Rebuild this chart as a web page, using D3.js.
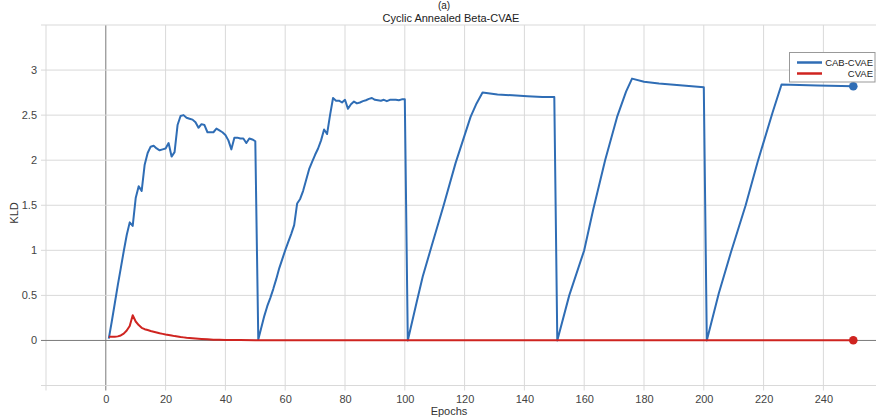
<!DOCTYPE html>
<html><head><meta charset="utf-8">
<script src="https://cdn.jsdelivr.net/npm/d3@7"></script>
<style>
html,body{margin:0;padding:0;background:#fff;overflow:hidden}
svg{display:block;font-family:Arial,"Liberation Sans",sans-serif}
</style></head>
<body><svg id="c" width="876" height="418"></svg>
<script>
// ---- data ----
const cabEpochs = [1,2,3,4,5,6,7,8,9,10,11,12,13,14,15,16,17,18,19,20,21,22,23,24,25,26,27,28,29,30,
  31,32,33,34,35,36,37,38,39,40,41,42,43,44,45,46,47,48,49,50,51,
  52,53,54,55,56,57,58,59,60,61,62,63,64,65,66,67,68,69,70,71,72,73,74,75,76,77,78,79,80,
  81,82,83,84,85,86,87,88,89,90,91,92,93,94,95,96,97,98,99,100,101,
  104,106,109,113,117,122,124,126,131,136,141,146,150,151,
  155,160,163,167,171,174,176,180,185,193,200,201,
  205,209,214,218,223,226,238,250];
const cabValues = [0.02,0.21,0.41,0.61,0.80,0.99,1.17,1.31,1.27,1.58,1.71,1.66,1.95,2.08,2.15,2.16,2.13,2.11,2.12,2.13,
  2.19,2.04,2.09,2.39,2.49,2.50,2.47,2.46,2.45,2.42,
  2.36,2.40,2.39,2.31,2.31,2.31,2.35,2.33,2.31,2.28,2.22,2.12,2.25,2.25,2.24,2.24,2.19,2.24,2.23,2.21,0.01,
  0.14,0.27,0.38,0.47,0.57,0.68,0.80,0.90,1.00,1.09,1.18,1.28,1.52,1.57,1.66,1.78,1.90,1.98,2.06,
  2.13,2.22,2.34,2.29,2.50,2.69,2.66,2.66,2.64,2.67,
  2.57,2.62,2.65,2.63,2.64,2.655,2.665,2.68,2.69,2.67,2.665,2.66,2.67,2.655,2.67,2.67,2.67,2.665,2.675,2.675,0.0,
  0.43,0.71,1.05,1.50,1.97,2.48,2.63,2.75,2.73,2.72,2.71,2.70,2.70,0.0,
  0.50,1.00,1.45,2.00,2.48,2.76,2.905,2.87,2.85,2.83,2.81,0.0,
  0.52,0.97,1.50,1.98,2.53,2.84,2.83,2.82];
const cvaeEpochs = [1,2,3,4,5,6,7,8,9,10,11,12,13,14,15,16,17,18,19,20,21,22,23,24,25,26,27,28,29,30,
  32,34,36,38,40,45,50,60,80,100,150,200,250];
const cvaeValues = [0.04,0.04,0.04,0.045,0.055,0.075,0.11,0.16,0.28,0.21,0.17,0.14,0.125,0.115,0.105,0.097,0.089,0.08,0.073,0.066,
  0.06,0.054,0.048,0.043,0.038,0.034,0.03,0.027,0.024,0.021,
  0.016,0.012,0.009,0.007,0.006,0.004,0.003,0.003,0.002,0.002,0.002,0.002,0.002];
const xTicks = [0,20,40,60,80,100,120,140,160,180,200,220,240];
const xGrid = [-20,0,20,40,60,80,100,120,140,160,180,200,220,240];
const yTicks = [0,0.5,1,1.5,2,2.5,3];
const yGrid = [-0.5,0,0.5,1,1.5,2,2.5,3,3.5];
const seriesNames = ["CAB-CVAE","CVAE"];
const colors = ["#2f6db5","#cf2420"];
const title = "Cyclic Annealed Beta-CVAE";

// ---- chart ----
const svg = d3.select("#c");
const x = d3.scaleLinear().domain([-20,260]).range([46, 46 + 280*2.99]);
const y = d3.scaleLinear().domain([-0.5,3.5]).range([385.5,25]);

const g = svg.append("g");
g.selectAll(".vg").data(xGrid).join("line")
  .attr("x1",d=>x(d)).attr("x2",d=>x(d)).attr("y1",y(3.5)).attr("y2",y(-0.5)+5)
  .attr("stroke",d=>d===0?"#7a7a7a":"#d9d9d9").attr("stroke-width",1);
g.selectAll(".hg").data(yGrid).join("line")
  .attr("x1",x(-20)-5).attr("x2",880).attr("y1",d=>y(d)).attr("y2",d=>y(d))
  .attr("stroke",d=>d===0?"#7a7a7a":"#d9d9d9").attr("stroke-width",1);

const xAxis = d3.axisBottom(x).tickValues(xTicks).tickSize(0).tickPadding(0).tickFormat(d3.format("d"));
const xa = svg.append("g").attr("transform",`translate(0,${y(-0.5)+10})`).call(xAxis);
xa.select(".domain").remove();
xa.selectAll("text").attr("font-size",11).attr("fill","#444").attr("font-family","Arial, Liberation Sans, sans-serif");
const yAxis = d3.axisLeft(y).tickValues(yTicks).tickSize(0).tickPadding(0).tickFormat(d=>String(d));
const ya = svg.append("g").attr("transform",`translate(37,0)`).call(yAxis);
ya.select(".domain").remove();
ya.selectAll("text").attr("font-size",11).attr("fill","#444").attr("font-family","Arial, Liberation Sans, sans-serif");

const line = d3.line().x(d=>x(d[0])).y(d=>y(d[1]));
const cab = cabEpochs.map((e,i)=>[e,cabValues[i]]);
const cvae = cvaeEpochs.map((e,i)=>[e,cvaeValues[i]]);
svg.append("path").datum(cab).attr("d",line).attr("fill","none")
  .attr("stroke",colors[0]).attr("stroke-width",2).attr("stroke-linejoin","round");
svg.append("path").datum(cvae).attr("d",line).attr("fill","none")
  .attr("stroke",colors[1]).attr("stroke-width",2).attr("stroke-linejoin","round");
const last = [cab[cab.length-1], cvae[cvae.length-1]];
svg.selectAll(".dot").data(last).join("circle")
  .attr("cx",d=>x(d[0])).attr("cy",d=>y(d[1])).attr("r",4.3).attr("fill",(d,i)=>colors[i]);

svg.append("text").attr("x",451).attr("y",22).attr("text-anchor","middle")
  .attr("font-size",11).attr("fill","#222").text(title);
svg.append("text").attr("x",444).attr("y",9).attr("text-anchor","middle")
  .attr("font-size",10).attr("fill","#222").text("(a)");
svg.append("text").attr("x",449).attr("y",415).attr("text-anchor","middle")
  .attr("font-size",11).attr("fill","#333").text("Epochs");
svg.append("text").attr("transform","translate(18,213) rotate(-90)").attr("text-anchor","middle")
  .attr("font-size",11).attr("fill","#333").text("KLD");

const lg = svg.append("g");
lg.append("rect").attr("x",789.5).attr("y",52.5).attr("width",85.5).attr("height",29.5)
  .attr("fill","#fff").attr("stroke","#999").attr("stroke-width",1);
seriesNames.forEach((n,i)=>{
  lg.append("line").attr("x1",797).attr("x2",822).attr("y1",62.5+i*11).attr("y2",62.5+i*11)
    .attr("stroke",colors[i]).attr("stroke-width",2.5);
  lg.append("text").attr("x",873).attr("y",66+i*11).attr("text-anchor","end")
    .attr("font-size",9.5).attr("fill","#222").text(n);
});
</script></body></html>
